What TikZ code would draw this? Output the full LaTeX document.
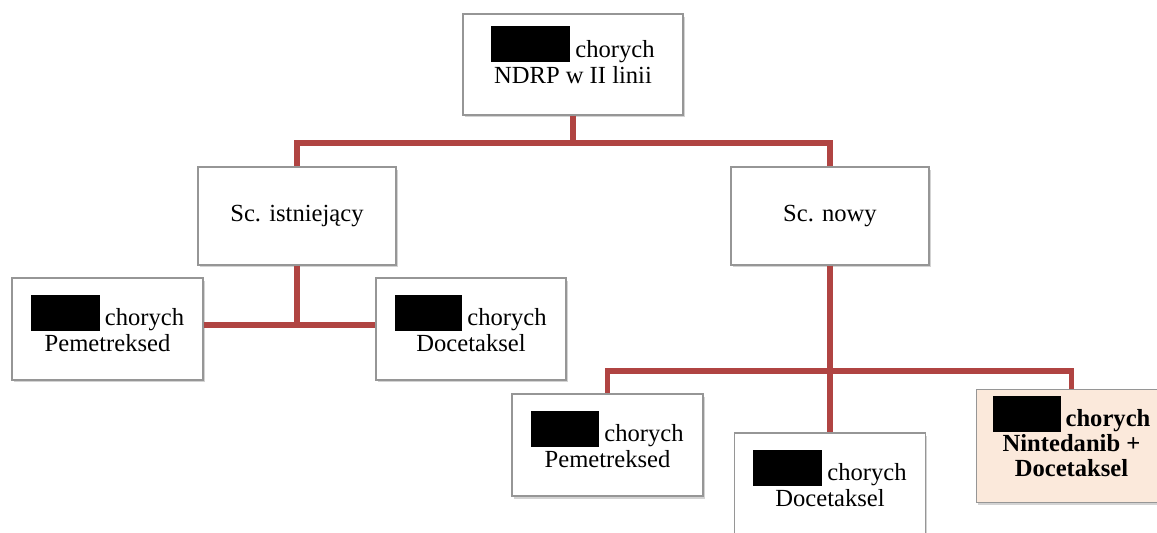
\documentclass[tikz,border=0pt]{standalone}
\usepackage{fontspec}
\setmainfont{Liberation Serif}
\usetikzlibrary{positioning}
\usetikzlibrary{shadows}
\definecolor{linkred}{RGB}{176,68,66}
\definecolor{peach}{RGB}{251,233,219}
\definecolor{boxgray}{RGB}{150,150,150}
\newcommand{\redact}[1]{\rule[-0.1cm]{#1}{0.72cm}\hspace{0.1cm}}
\newcommand{\lift}[1]{\rule[-#1]{0pt}{#1}}
\tikzset{
  box/.style={draw=boxgray, fill=white, line width=0.6pt, align=center,
    drop shadow={shadow xshift=0.04cm, shadow yshift=-0.05cm, opacity=0.35},
    font=\fontsize{14}{14.8}\selectfont},
  hilite/.style={box, fill=peach, font=\fontsize{14}{14.2}\selectfont\bfseries},
  link/.style={draw=linkred, line width=3.4pt}
}
\begin{document}
\begin{tikzpicture}[x=0.02cm, y=-0.02cm]
	\useasboundingbox (0,0) rectangle (1157,532);
	\clip (0,0) rectangle (1157,532);
	%Nodes
	\node[box, minimum width=4.4cm, minimum height=2.02cm] (top) at (573,64.5) {\redact{1.58cm}chorych\\NDRP w II linii\lift{0.4cm}};
	\node[box, minimum width=3.96cm, minimum height=1.96cm] (isn) at (297,216) {Sc. istniejący};
	\node[box, minimum width=3.96cm, minimum height=1.96cm] (nowy) at (830,216) {Sc. nowy};
	\node[box, minimum width=3.82cm, minimum height=2.04cm] (pemA) at (107.5,329) {\redact{1.38cm}chorych\\Pemetreksed\lift{0.24cm}};
	\node[box, minimum width=3.8cm, minimum height=2.04cm] (docA) at (471,329) {\redact{1.34cm}chorych\\Docetaksel\lift{0.24cm}};
	\node[box, minimum width=3.82cm, minimum height=2.04cm] (pemB) at (607.5,445) {\redact{1.36cm}chorych\\Pemetreksed\lift{0.24cm}};
	\node[box, minimum width=3.82cm, minimum height=2.04cm] (docB) at (830,484) {\redact{1.38cm}chorych\\Docetaksel\lift{0.24cm}};
	\node[hilite, minimum width=3.82cm, minimum height=2.04cm] (nint) at (1071.5,446) {\redact{1.36cm}chorych\\Nintedanib +\\Docetaksel\lift{0.4cm}};
	\coordinate (j1) at (573,143);
	\coordinate (j2) at (297,325);
	\coordinate (j3) at (830,371);

	%Lines
	\draw[link] (top) -- (j1);
	\draw[link] (j1) -| (isn);
	\draw[link] (j1) -| (nowy);
	\draw[link] (isn) -- (j2);
	\draw[link] (pemA.east |- j2) -- (docA.west |- j2);
	\draw[link] (nowy) -- (docB);
	\draw[link] (j3) -| (pemB);
	\draw[link] (j3) -| (nint);
\end{tikzpicture}
\end{document}
